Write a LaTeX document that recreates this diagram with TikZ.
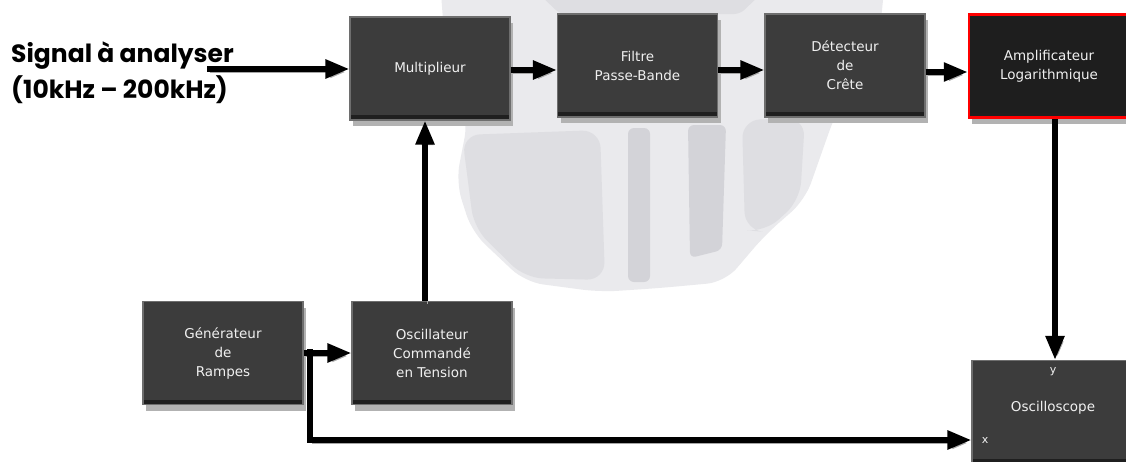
\documentclass[tikz,border=0pt]{standalone}
\usepackage{fontspec}
\usetikzlibrary{arrows.meta,shadows}
\newfontfamily\blkfont{DejaVu Sans}
\newfontfamily\lblfont{Poppins}
\definecolor{ghostA}{HTML}{EAEAED}
\definecolor{ghostB}{HTML}{DEDEE2}
\definecolor{ghostC}{HTML}{D3D3D8}
\definecolor{boxfill}{HTML}{3C3C3C}
\definecolor{boxdark}{HTML}{1E1E1E}
\definecolor{boxedge}{HTML}{6E6E6E}
\definecolor{boxtext}{HTML}{F0F0F0}
\tikzset{
  x=1pt, y=-1pt,
  blk/.style={draw=boxedge, line width=1.2pt, fill=boxfill,
    minimum width=160pt, minimum height=103pt, inner sep=0pt,
    text=boxtext, align=center,
    font={\blkfont\fontsize{13.5}{19}\selectfont},
    drop shadow={shadow xshift=3pt, shadow yshift=-6pt, fill=black!30, opacity=1},
    path picture={\fill[black!88] (path picture bounding box.south west)
      rectangle ([yshift=5pt]path picture bounding box.south east);}},
  arr/.style={line width=5.5pt, -{Triangle[length=24pt,width=18pt]},
    preaction={draw=black!35, transform canvas={xshift=2.5pt,yshift=-3pt}}},
  lbl/.style={font={\lblfont\bfseries\fontsize{25}{36}\selectfont}, anchor=base west, inner sep=0pt},
  small/.style={text=boxtext, font={\blkfont\fontsize{11}{13}\selectfont}, inner sep=0pt},
  ghost/.style={rounded corners=18pt}
}
\begin{document}
\begin{tikzpicture}
\useasboundingbox (0,0) rectangle (1126,461);
\fill[white] (0,0) rectangle (1126,461);

% faded instrument silhouette in the background
\fill[ghostA, ghost] (440,-20) -- (885,-20) -- (880,30) -- (835,115) -- (805,200) -- (765,235)
  -- (725,282) -- (660,288) -- (600,292) -- (525,282) -- (472,232) -- (456,182)
  -- (468,120) -- (446,60) -- cycle;
\fill[ghostB, ghost] (462,135) -- (600,130) -- (605,280) -- (525,278) -- (474,228) -- cycle;
\fill[ghostB, ghost] (742,120) -- (805,118) -- (800,200) -- (765,232) -- (745,230) -- cycle;
\fill[ghostC, rounded corners=6pt] (628,128) rectangle (650,282);
\fill[ghostC, rounded corners=6pt] (688,125) -- (726,125) -- (722,250) -- (690,258) -- cycle;
\fill[ghostB, rounded corners=6pt] (540,-5) -- (760,-5) -- (740,14) -- (560,14) -- cycle;

% blocks
\node[blk] (mult)  at (430,68.5) {Multiplieur};
\node[blk] (filt)  at (637.5,65.5) {Filtre\\Passe-Bande};
\node[blk] (det)   at (845,65.5) {Détecteur\\de\\Crête};
\node[blk, fill=boxdark, draw=red, line width=2.5pt] (amp) at (1049,66) {Amplificateur\\Logarithmique};
\node[blk] (gen)   at (223,353) {Générateur\\de\\Rampes};
\node[blk] (vco)   at (432,353) {Oscillateur\\Commandé\\en Tension};
\node[blk] (scope) at (1052,412) {};
\node[small] (ylab) at (1053,372) {y};
\node[small, font={\blkfont\fontsize{13.5}{15}\selectfont}] (slab) at (1053,408) {Oscilloscope};
\node[small] (xlab) at (985,440) {x};

% input label, two lines
\node[lbl] (sig1) at (11,62) {Signal à analyser};
\node[lbl] (sig2) at (11,98) {(10kHz – 200kHz)};

% routing coordinates
\coordinate (in)   at (207,69);
\coordinate (row)  at (0,70);
\coordinate (row2) at (0,72);
\coordinate (col)  at (1055,0);
\coordinate (vcol) at (425,0);
\coordinate (tap)  at (310,349);
\coordinate (bot)  at (0,440);

% connectors
\draw[arr] (in) -- (in -| mult.west);
\draw[arr] (mult.east |- row) -- (filt.west |- row);
\draw[arr] (filt.east |- row) -- (det.west |- row);
\draw[arr] (det.east |- row2) -- (amp.west |- row2);
\draw[arr] (amp.south -| col) -- (scope.north -| col);
\draw[arr] (vco.north -| vcol) -- (mult.south -| vcol);
\draw[arr] (gen.east) -- (vco.west);
\draw[arr] (tap) -- (tap |- bot) -- (bot -| scope.west);
\end{tikzpicture}
\end{document}
